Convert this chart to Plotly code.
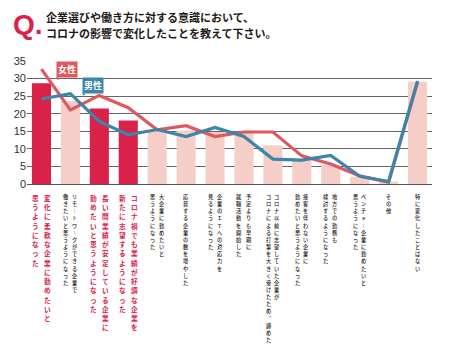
import plotly.graph_objects as go

# ---- data ----
cat_line1 = [
    "変化に柔軟な企業に勤めたいと",
    "リモートワークができる企業で",
    "長い間業績が安定している企業に",
    "コロナ禍でも業績が好調な企業を",
    "大企業に勤めたいと",
    "応募する企業の数を増やした",
    "企業のＩＴへの対応力を",
    "予定よりも早期に",
    "コロナ以前に志望していた企業が",
    "接客を伴わない企業に",
    "地方での勤務も",
    "ベンチャー企業に勤めたいと",
    "その他",
    "特に変化したことはない",
]
cat_line2 = [
    "思うようになった",
    "働きたいと思うようになった",
    "勤めたいと思うようになった",
    "新たに志望するようになった",
    "思うようになった",
    "",
    "見るようになった",
    "就職活動を開始した",
    "コロナによる打撃を大きく受けたため、諦めた",
    "勤めたいと思うようになった",
    "検討するようになった",
    "思うようになった",
    "",
    "",
]
highlight = [True, False, True, True, False, False, False, False, False, False, False, False, False, False]
total = [28.7, 23.6, 21.5, 18.1, 15.2, 15.2, 14.8, 14.5, 11.0, 7.0, 5.5, 2.1, 0.7, 29.1]
female = [32.7, 21.1, 25.2, 21.7, 15.4, 16.6, 13.5, 14.8, 14.8, 8.0, 5.7, 2.3, 0.5, 29.0]
male = [24.2, 25.7, 17.8, 14.0, 15.5, 13.5, 16.1, 13.5, 7.1, 6.8, 8.1, 2.2, 0.7, 29.3]
y_ticks = [0, 5, 10, 15, 20, 25, 30, 35]
title_lines = ["企業選びや働き方に対する意識において、", "コロナの影響で変化したことを教えて下さい。"]

RED = "#D9214A"
PINK = "#F5CFC7"
FEM = "#E0585F"
MALE = "#3B86A9"
DARK = "#231815"
JP = "Noto Sans CJK JP"

x = list(range(len(total)))
fig = go.Figure()
fig.add_trace(go.Bar(x=x, y=total, marker=dict(color=[RED if h else PINK for h in highlight], line=dict(width=0)),
                     width=0.66, showlegend=False, hoverinfo="skip"))
fig.add_trace(go.Scatter(x=x, y=female, mode="lines", line=dict(color=FEM, width=3.2), showlegend=False))
fig.add_trace(go.Scatter(x=x, y=male, mode="lines", line=dict(color=MALE, width=3.2), showlegend=False))


def vert(s, inner):
    s = s.replace("ー", "︱").replace("、", "︑")
    return "<br>".join(f"<span style='font-size:{inner}px'>{c}</span>" for c in s)


ann = []
for i in range(len(total)):
    hi = highlight[i]
    outer = 7.1 if hi else 5.5
    inner = 6.7 if hi else 5.2
    col = RED if hi else DARK
    off = 6 if hi else 4.5
    cols = [(cat_line1[i], off if cat_line2[i] else 0)]
    if cat_line2[i]:
        cols.append((cat_line2[i], -off))
    for txt, dx in cols:
        t = vert(txt, inner)
        if hi:
            t = "<b>" + t + "</b>"
        ann.append(dict(x=i, y=0, xref="x", yref="y", text=t, showarrow=False,
                        xanchor="center", yanchor="top", xshift=dx, yshift=-7,
                        font=dict(size=outer, color=col, family=JP, weight=700 if hi else 500),
                        align="center"))

# title
ann.append(dict(xref="paper", yref="paper", x=(11 - 27) / 405, y=(184 - 24) / 123, text="<b>Q.</b>", showarrow=False,
                xanchor="left", yanchor="middle",
                font=dict(size=28, color=RED, family="Liberation Sans")))
ann.append(dict(xref="paper", yref="paper", x=0.042, y=(184 - 17) / 123, text="<b>" + title_lines[0] + "</b>",
                showarrow=False, xanchor="left", yanchor="middle", font=dict(size=11, color=DARK, family=JP)))
ann.append(dict(xref="paper", yref="paper", x=0.042, y=(184 - 33) / 123, text="<b>" + title_lines[1] + "</b>",
                showarrow=False, xanchor="left", yanchor="middle", font=dict(size=11, color=DARK, family=JP)))

# legend callouts
ann.append(dict(x=0.54, y=29.9, xref="x", yref="y", text="<b>女性</b>", showarrow=True, arrowhead=0,
                arrowwidth=3, arrowcolor=FEM, ax=10, ay=-9, bgcolor=FEM, borderpad=1,
                font=dict(size=9, color="white", family=JP)))
ann.append(dict(x=1.44, y=25.4, xref="x", yref="y", text="<b>男性</b>", showarrow=True, arrowhead=0,
                arrowwidth=3, arrowcolor=MALE, ax=10, ay=-9, bgcolor=MALE, borderpad=1,
                font=dict(size=9, color="white", family=JP)))

fig.update_layout(
    width=464, height=352,
    margin=dict(l=27, r=32, t=61, b=168),
    paper_bgcolor="white", plot_bgcolor="white",
    bargap=0.34,
    annotations=ann,
    xaxis=dict(range=[-0.5, 13.5], showticklabels=False, showgrid=False, zeroline=False,
               showline=True, linecolor="#555", linewidth=1.2, ticks=""),
    yaxis=dict(range=[0, 35], tickvals=y_ticks, showgrid=True, gridcolor="#666", gridwidth=1,
               zeroline=False, showline=False, ticks="",
               tickfont=dict(size=11, color="#333", family="Liberation Sans")),
)
fig.write_html("out.html")
